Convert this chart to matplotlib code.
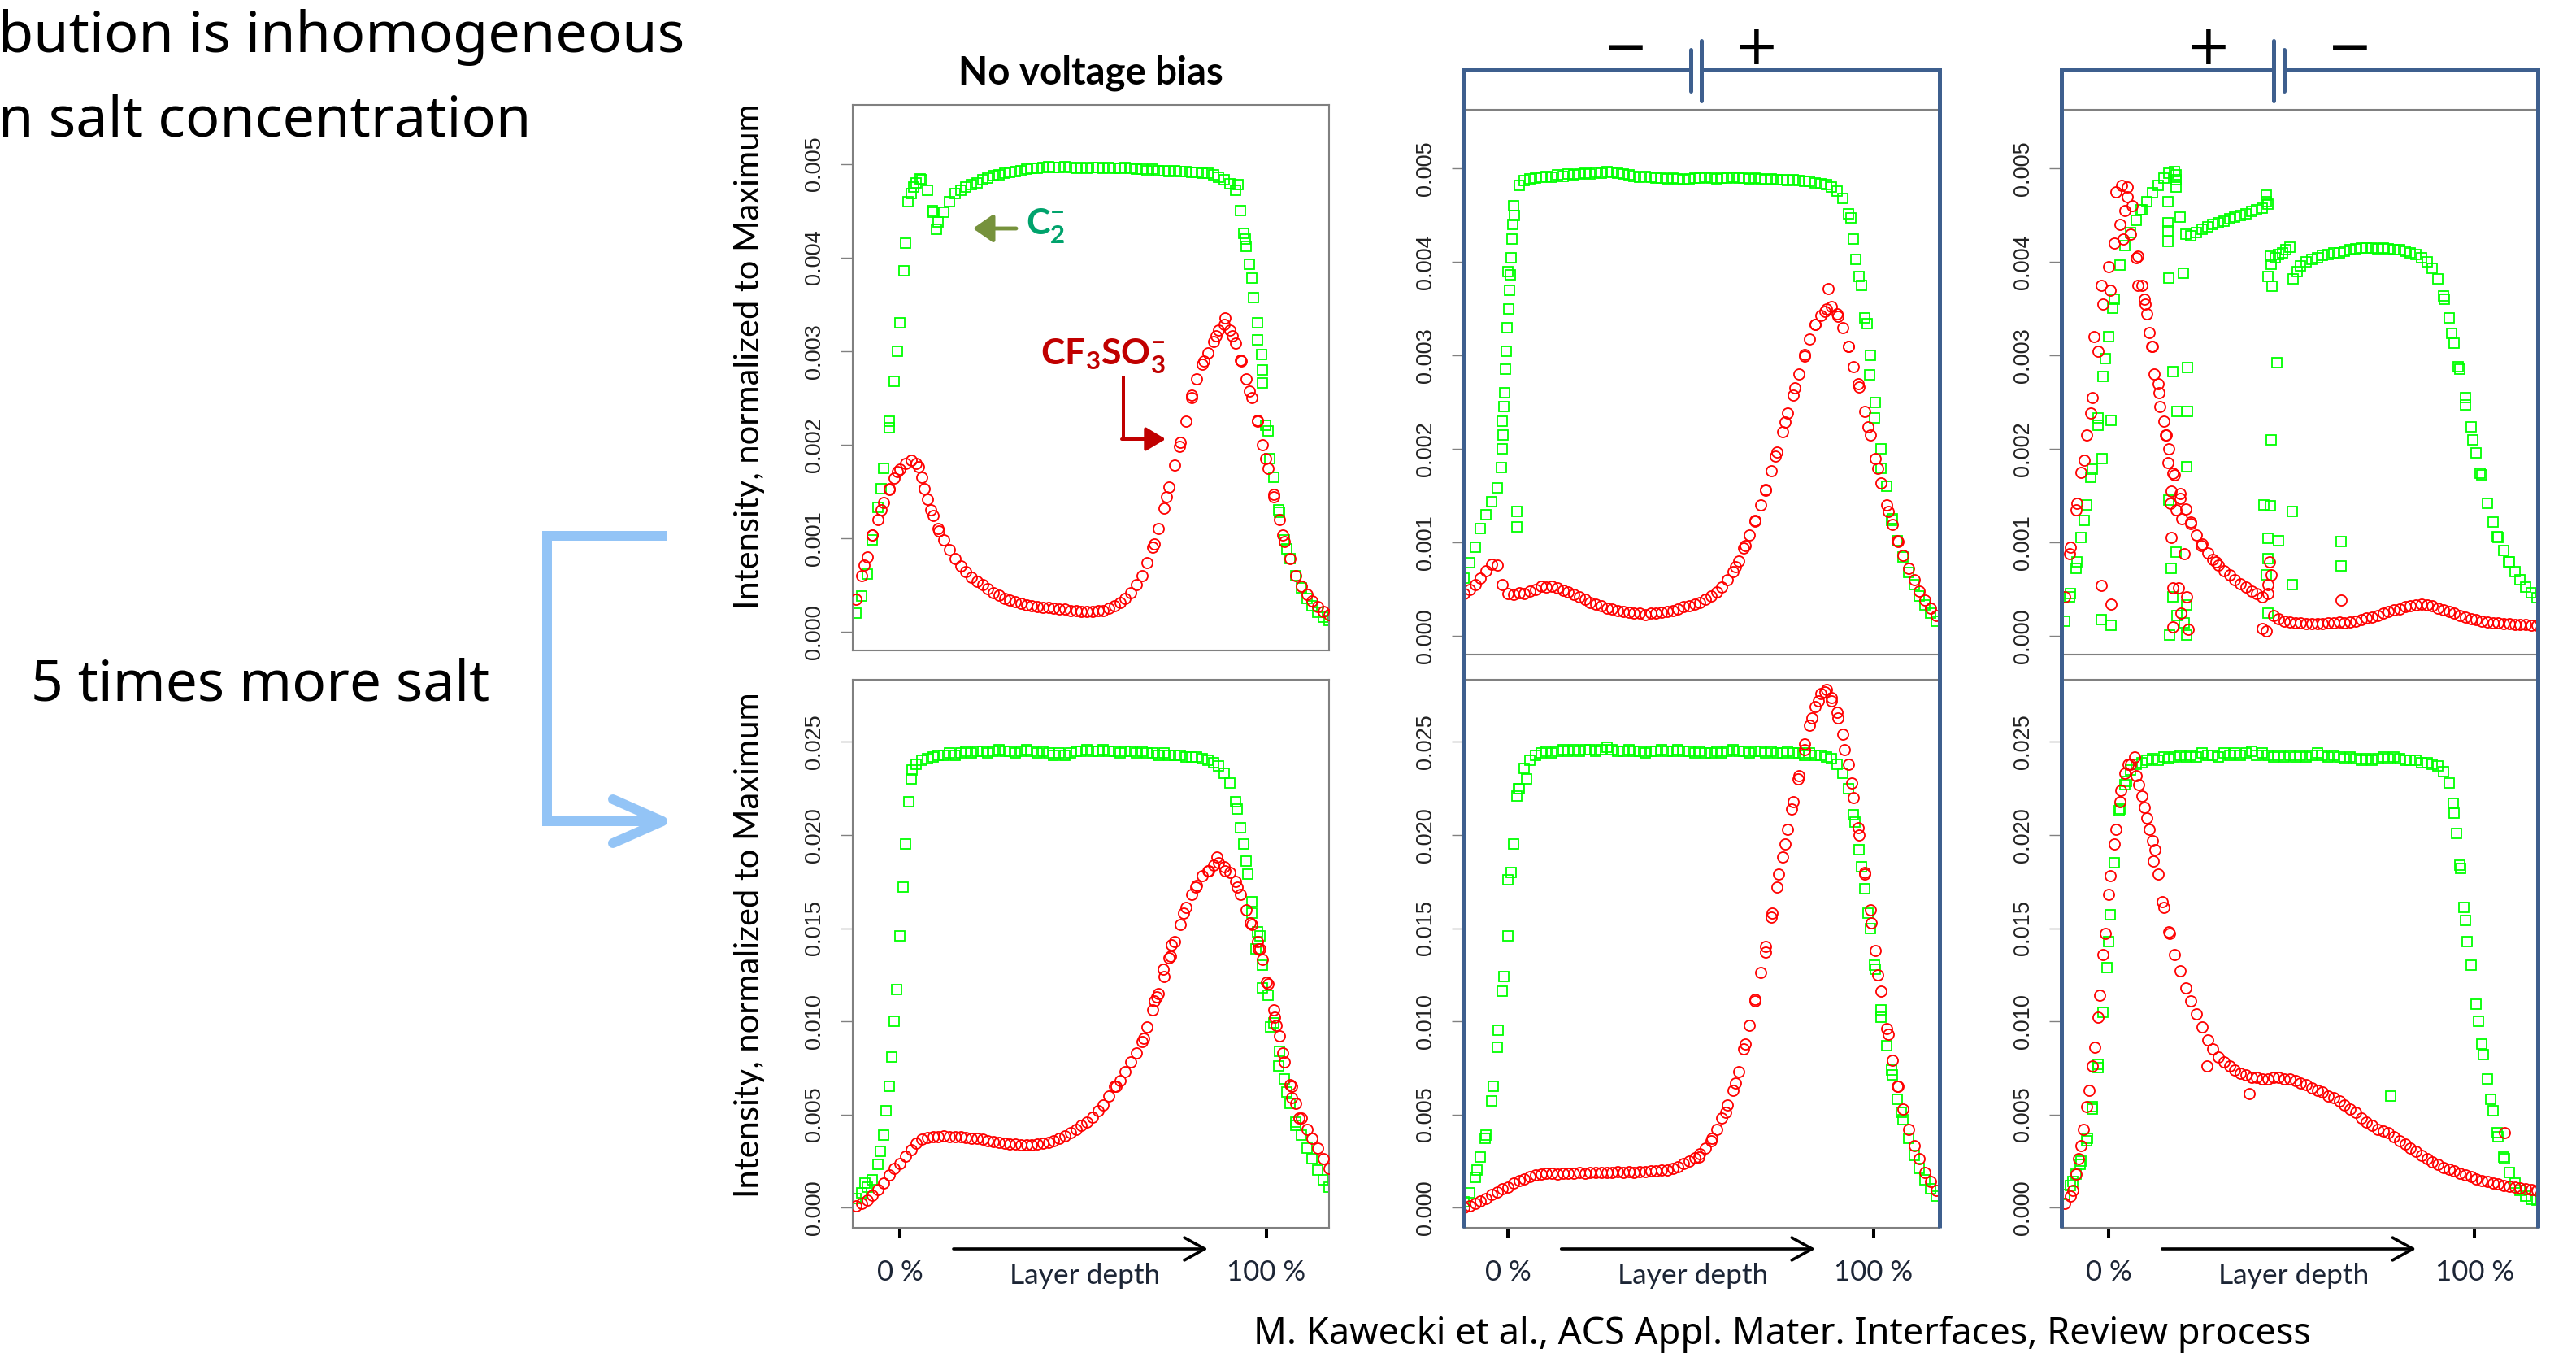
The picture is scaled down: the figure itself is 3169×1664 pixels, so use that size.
import numpy as np
import matplotlib
matplotlib.use("Agg")
import matplotlib.pyplot as plt

W, H = 3169, 1664
DPI = 100

plt.rcParams['mathtext.fontset'] = 'custom'
plt.rcParams['mathtext.rm'] = 'Lato'
plt.rcParams['mathtext.it'] = 'Lato:italic'
plt.rcParams['mathtext.bf'] = 'Lato:bold'

# === DATA ====================================================================
# depth through the layer (%), sampling shared by the smooth profiles
DEPTH = [-12, -10.5, -9, -7.5, -6, -4.5, -3, -1.5, 0, 1.5,
         3, 4.5, 6, 7.5, 9, 10.5, 12, 13.5, 15, 16.5,
         18, 19.5, 21, 22.5, 24, 25.5, 27, 28.5, 30, 31.5,
         33, 34.5, 36, 37.5, 39, 40.5, 42, 43.5, 45, 46.5,
         48, 49.5, 51, 52.5, 54, 55.5, 57, 58.5, 60, 61.5,
         63, 64.5, 66, 67.5, 69, 70.5, 72, 73.5, 75, 76.5,
         78, 79.5, 81, 82.5, 84, 85.5, 87, 88.5, 90, 91.5,
         93, 94.5, 96, 97.5, 99, 100.5, 102, 103.5, 105, 106.5,
         108, 109.5, 111, 112.5, 114, 115.5, 117]

# intensities below are in units of 1e-3 (normalized to maximum)

# --- no voltage bias, low salt
NB_C2 = [0.20, 0.38, 0.62, 0.98, 1.33, 1.75, 2.18, 2.68, 3.30, 4.15,
         4.68, 4.80, 4.83, 4.72, 4.48, 4.38, 4.48, 4.60, 4.68, 4.72,
         4.75, 4.78, 4.80, 4.83, 4.85, 4.87, 4.88, 4.90, 4.91, 4.92,
         4.93, 4.94, 4.95, 4.95, 4.96, 4.97, 4.96, 4.96, 4.97, 4.96,
         4.95, 4.96, 4.95, 4.96, 4.96, 4.95, 4.96, 4.95, 4.95, 4.96,
         4.95, 4.94, 4.94, 4.93, 4.94, 4.93, 4.93, 4.92, 4.93, 4.92,
         4.92, 4.91, 4.91, 4.90, 4.90, 4.88, 4.86, 4.83, 4.79, 4.72,
         4.50, 4.12, 3.78, 3.30, 2.80, 2.15, 1.65, 1.28, 0.98, 0.78,
         0.60, 0.47, 0.36, 0.28, 0.21, 0.16, 0.12]
NB_C2_EXTRA_X = [-5.2, -2.9, -0.7, 1.1, 2.2, 3.8, 5.5, 8.9, 10.0,
                 92.2, 93.8, 94.2, 95.4, 96.5, 97.6, 98.7, 98.8, 99.9, 101.0,
                 103.3, 105.5]
NB_C2_EXTRA_Y = [1.53, 2.25, 3.00, 3.86, 4.60, 4.75, 4.84, 4.50, 4.30,
                 4.78, 4.26, 4.20, 3.93, 3.57, 3.12, 2.96, 2.66, 2.21, 1.85,
                 1.30, 0.89]
NB_CF3 = [0.35, 0.60, 0.80, 1.03, 1.20, 1.38, 1.52, 1.64, 1.74, 1.80,
          1.83, 1.80, 1.65, 1.42, 1.24, 1.10, 0.98, 0.88, 0.78, 0.70,
          0.64, 0.58, 0.54, 0.50, 0.46, 0.42, 0.39, 0.36, 0.34, 0.32,
          0.30, 0.29, 0.28, 0.27, 0.26, 0.26, 0.25, 0.24, 0.24, 0.23,
          0.23, 0.22, 0.22, 0.22, 0.23, 0.23, 0.25, 0.28, 0.31, 0.36,
          0.42, 0.50, 0.60, 0.74, 0.90, 1.10, 1.32, 1.55, 1.78, 2.02,
          2.25, 2.50, 2.70, 2.86, 2.98, 3.10, 3.22, 3.28, 3.22, 3.08,
          2.90, 2.70, 2.50, 2.26, 2.00, 1.75, 1.47, 1.20, 0.96, 0.78,
          0.60, 0.49, 0.40, 0.33, 0.27, 0.22, 0.18]
NB_CF3_EXTRA_X = [-9.7, -7.5, -5.2, -2.9, -0.7, 5.0, 6.7, 8.4, 10.6,
                  69.4, 72.8, 76.2, 79.5, 82.9, 86.3, 88.6, 90.8, 93.1, 95.4,
                  97.6, 99.9, 102.1, 104.4]
NB_CF3_EXTRA_Y = [0.71, 1.03, 1.30, 1.53, 1.71, 1.76, 1.53, 1.30, 1.08,
                  0.94, 1.44, 1.98, 2.53, 2.89, 3.16, 3.35, 3.16, 2.89, 2.57,
                  2.25, 1.85, 1.44, 1.03]

# --- no voltage bias, 5x salt
NB5_C2 = [0.5, 0.8, 1.1, 1.5, 2.3, 3.9, 6.5, 10.0, 14.6, 19.5,
          23.0, 23.8, 24.0, 24.1, 24.2, 24.3, 24.3, 24.4, 24.3, 24.4,
          24.5, 24.4, 24.5, 24.5, 24.4, 24.5, 24.6, 24.5, 24.5, 24.4,
          24.5, 24.6, 24.5, 24.4, 24.5, 24.4, 24.3, 24.4, 24.3, 24.4,
          24.5, 24.5, 24.6, 24.5, 24.5, 24.6, 24.5, 24.5, 24.4, 24.5,
          24.5, 24.4, 24.5, 24.4, 24.4, 24.3, 24.4, 24.3, 24.3, 24.3,
          24.2, 24.2, 24.2, 24.1, 24.0, 23.9, 23.7, 23.3, 22.8, 21.8,
          20.4, 18.6, 16.4, 14.8, 13.0, 11.4, 9.9, 8.4, 6.9, 5.6,
          4.6, 3.9, 3.2, 2.6, 2.0, 1.5, 1.1]
NB5_C2_EXTRA_X = [-9.6, -5.3, -3.8, -2.2, -0.9, 0.8, 2.3, 3.4,
                  92.0, 93.8, 94.9, 96.0, 97.2, 98.2, 98.9, 101.1, 103.4, 105.6,
                  107.9]
NB5_C2_EXTRA_Y = [1.3, 3.0, 5.2, 8.1, 11.7, 17.2, 21.8, 23.5,
                  21.4, 19.5, 17.9, 15.8, 13.9, 14.6, 11.8, 9.7, 7.6, 6.2,
                  4.4]
NB5_CF3 = [0.10, 0.20, 0.40, 0.65, 0.95, 1.30, 1.75, 2.10, 2.35, 2.75,
           3.10, 3.45, 3.65, 3.75, 3.80, 3.82, 3.85, 3.80, 3.78, 3.80,
           3.75, 3.70, 3.72, 3.65, 3.60, 3.55, 3.50, 3.45, 3.40, 3.42,
           3.38, 3.35, 3.35, 3.40, 3.45, 3.50, 3.60, 3.70, 3.85, 4.00,
           4.20, 4.40, 4.60, 4.85, 5.20, 5.50, 6.00, 6.50, 6.80, 7.30,
           7.80, 8.30, 8.90, 9.70, 10.6, 11.5, 12.4, 13.4, 14.3, 15.2,
           16.1, 16.8, 17.3, 17.8, 18.1, 18.4, 18.5, 18.3, 18.0, 17.5,
           16.8, 16.0, 15.2, 14.3, 13.3, 12.0, 10.6, 9.2, 7.8, 6.6,
           5.6, 4.8, 4.2, 3.7, 3.2, 2.6, 2.1]
NB5_CF3_EXTRA_X = [59.0, 66.5, 69.5, 70.0, 71.8, 73.8, 74.0, 77.4, 80.8, 84.2,
                   86.4, 88.7, 92.0, 95.5, 97.7, 98.2, 100.0, 102.3, 102.7,
                   104.5, 106.8, 107.0, 109.0]
NB5_CF3_EXTRA_Y = [6.5, 9.1, 11.1, 11.3, 12.8, 13.5, 14.1, 15.8, 17.2, 18.1,
                   18.8, 18.1, 17.2, 15.3, 13.9, 13.9, 12.1, 10.2, 9.8,
                   8.3, 6.5, 5.9, 4.8]

# --- bias with negative electrode at 0 %, low salt
NEG_C2 = [0.62, 0.78, 0.95, 1.15, 1.30, 1.44, 1.58, 2.30, 3.90, 4.60,
          4.82, 4.87, 4.89, 4.90, 4.91, 4.92, 4.91, 4.93, 4.92, 4.94,
          4.93, 4.94, 4.95, 4.94, 4.96, 4.95, 4.97, 4.96, 4.95, 4.94,
          4.93, 4.92, 4.91, 4.92, 4.91, 4.90, 4.90, 4.89, 4.90, 4.89,
          4.88, 4.89, 4.90, 4.90, 4.91, 4.90, 4.89, 4.90, 4.90, 4.91,
          4.90, 4.90, 4.89, 4.90, 4.89, 4.88, 4.89, 4.88, 4.88, 4.87,
          4.88, 4.87, 4.86, 4.86, 4.85, 4.84, 4.83, 4.80, 4.76, 4.68,
          4.52, 4.25, 3.85, 3.40, 3.00, 2.50, 2.00, 1.60, 1.25, 1.02,
          0.84, 0.68, 0.55, 0.43, 0.33, 0.24, 0.16]
NEG_C2_EXTRA_X = [-1.8, -1.6, -1.3, -1.1, -0.9, -0.6, -0.4, -0.2, 0.2, 0.4,
                  0.7, 0.9, 1.1, 1.3, 1.8, 2.4, 2.4,
                  93.7, 95.1, 96.7, 98.2, 98.9, 100.3, 102.1, 104.8]
NEG_C2_EXTRA_Y = [1.80, 2.00, 2.15, 2.45, 2.60, 2.85, 3.05, 3.30, 3.50, 3.70,
                  3.86, 4.05, 4.25, 4.40, 4.50, 1.33, 1.17,
                  4.47, 4.03, 3.75, 3.34, 2.79, 2.33, 1.79, 1.24]
NEG_CF3 = [0.45, 0.50, 0.55, 0.62, 0.70, 0.77, 0.76, 0.55, 0.45, 0.44,
           0.46, 0.45, 0.48, 0.50, 0.53, 0.52, 0.53, 0.51, 0.49, 0.47,
           0.44, 0.42, 0.39, 0.36, 0.34, 0.32, 0.30, 0.29, 0.27, 0.26,
           0.25, 0.24, 0.24, 0.23, 0.24, 0.24, 0.25, 0.26, 0.27, 0.29,
           0.31, 0.32, 0.34, 0.36, 0.39, 0.43, 0.47, 0.52, 0.60, 0.69,
           0.80, 0.94, 1.08, 1.23, 1.40, 1.57, 1.77, 1.97, 2.18, 2.38,
           2.58, 2.80, 2.99, 3.18, 3.33, 3.43, 3.50, 3.52, 3.45, 3.30,
           3.10, 2.88, 2.66, 2.40, 2.15, 1.90, 1.64, 1.40, 1.19, 1.02,
           0.86, 0.72, 0.60, 0.48, 0.38, 0.30, 0.22]
NEG_CF3_EXTRA_X = [62.2, 64.9, 67.6, 70.4, 73.1, 75.8, 78.5, 81.2, 84.0, 86.7,
                   87.6, 90.3, 93.0, 95.7, 98.5, 101.2, 103.9, 106.6]
NEG_CF3_EXTRA_Y = [0.74, 0.97, 1.24, 1.56, 1.92, 2.29, 2.65, 3.01, 3.33, 3.47,
                   3.72, 3.42, 3.10, 2.70, 2.24, 1.79, 1.33, 1.01]

# --- bias with negative electrode at 0 %, 5x salt
NEG5_C2 = [0.3, 0.8, 1.6, 2.7, 3.9, 5.7, 8.6, 11.6, 14.6, 19.5,
           22.5, 23.6, 24.0, 24.3, 24.4, 24.5, 24.4, 24.5, 24.6, 24.5,
           24.6, 24.5, 24.6, 24.6, 24.5, 24.6, 24.7, 24.6, 24.5, 24.5,
           24.6, 24.5, 24.5, 24.4, 24.5, 24.5, 24.6, 24.5, 24.5, 24.6,
           24.5, 24.5, 24.4, 24.5, 24.4, 24.4, 24.5, 24.4, 24.5, 24.6,
           24.5, 24.5, 24.4, 24.5, 24.5, 24.4, 24.5, 24.4, 24.4, 24.5,
           24.4, 24.4, 24.3, 24.4, 24.3, 24.3, 24.2, 24.1, 23.8, 23.3,
           22.5, 21.1, 19.2, 17.1, 15.0, 12.8, 10.6, 8.7, 7.1, 5.8,
           4.7, 3.7, 2.8, 2.1, 1.5, 1.0, 0.6]
NEG5_C2_EXTRA_X = [-8.5, -6.2, -4.0, -2.6, -1.1, 0.1, 0.8, 2.4, 2.8, 5.0,
                   94.8, 96.6, 98.5, 100.3, 102.1, 104.8, 107.5]
NEG5_C2_EXTRA_Y = [2.0, 3.7, 6.5, 9.5, 12.4, 17.6, 18.0, 22.1, 22.5, 23.0,
                   20.7, 18.3, 15.8, 13.0, 10.2, 7.4, 5.1]
NEG5_CF3 = [0.02, 0.10, 0.20, 0.35, 0.50, 0.70, 0.85, 1.00, 1.10, 1.30,
            1.45, 1.55, 1.65, 1.75, 1.80, 1.82, 1.85, 1.80, 1.82, 1.84,
            1.85, 1.87, 1.85, 1.88, 1.90, 1.90, 1.88, 1.90, 1.92, 1.90,
            1.92, 1.90, 1.93, 1.92, 1.95, 1.97, 2.00, 2.02, 2.10, 2.20,
            2.35, 2.50, 2.65, 2.90, 3.20, 3.60, 4.20, 4.80, 5.50, 6.30,
            7.30, 8.50, 9.80, 11.2, 12.6, 14.0, 15.6, 17.2, 18.8, 20.3,
            21.8, 23.2, 24.6, 25.9, 26.9, 27.6, 27.8, 27.4, 26.6, 25.4,
            23.8, 22.0, 20.0, 18.0, 16.0, 13.8, 11.6, 9.6, 7.9, 6.5,
            5.3, 4.2, 3.3, 2.6, 1.9, 1.4, 0.9]
NEG5_CF3_EXTRA_X = [52.2, 55.8, 59.5, 62.2, 64.9, 67.6, 70.4, 72.2, 74.0, 75.8,
                    77.6, 79.4, 81.2, 83.0, 84.9, 86.7, 88.5, 90.3, 92.1, 93.9,
                    95.7, 97.6, 99.4, 101.2, 103.9, 106.6]
NEG5_CF3_EXTRA_Y = [2.7, 3.7, 5.1, 6.7, 8.8, 11.1, 13.7, 15.8, 17.9, 19.5,
                    21.4, 23.0, 24.9, 26.3, 27.2, 27.7, 27.2, 26.3, 24.6, 22.8,
                    20.4, 17.9, 15.3, 12.5, 9.3, 6.5]

# --- bias with positive electrode at 0 %, low salt (C2- profile is broken)
POS_C2_X1 = [-12, -10.5, -9, -7.5, -6, -4.5, -3, -1.5, 0, 1.5, 3, 4.5, 6, 7.5,
             9, 10.5, 12, 13.5, 15, 16.5, 18, 18.5, 18.5, 18.5]
POS_C2_Y1 = [0.16, 0.45, 0.72, 1.05, 1.40, 1.78, 2.25, 2.78, 3.20, 3.60, 3.97,
             4.18, 4.32, 4.45, 4.56, 4.65, 4.74, 4.82, 4.90, 4.95, 4.97, 4.93,
             4.88, 4.80]
POS_C2_X2 = [19.5, 21, 22.5, 24, 25.5, 27, 28.5, 30, 31.5, 33, 34.5, 36, 37.5,
             39, 40.5, 42, 43.5]
POS_C2_Y2 = [4.48, 4.30, 4.28, 4.32, 4.35, 4.38, 4.40, 4.42, 4.44, 4.46, 4.48,
             4.50, 4.52, 4.54, 4.56, 4.58, 4.62]
POS_C2_X3 = [43.5, 44.5, 45.5, 46.5, 47.5, 48.5, 49.5]
POS_C2_Y3 = [3.85, 3.98, 4.05, 4.08, 4.10, 4.13, 4.16]
POS_C2_X4 = [50.5, 51.5, 52.5, 54, 55.5, 57, 58.5, 60, 61.5, 63, 64.5, 66, 67.5,
             69, 70.5, 72, 73.5, 75, 76.5, 78, 79.5, 81, 82.5, 84, 85.5, 87,
             88.5, 90, 91.5, 93, 94.5, 96, 97.5, 99, 100.5, 102, 103.5, 105,
             106.5, 108, 109.5, 111, 112.5, 114, 115.5, 117]
POS_C2_Y4 = [3.82, 3.90, 3.96, 4.00, 4.03, 4.05, 4.07, 4.08, 4.10, 4.10, 4.12,
             4.13, 4.14, 4.15, 4.15, 4.15, 4.14, 4.15, 4.14, 4.13, 4.13, 4.12,
             4.10, 4.08, 4.05, 4.00, 3.93, 3.82, 3.64, 3.40, 3.13, 2.85, 2.55,
             2.24, 1.96, 1.72, 1.42, 1.22, 1.05, 0.91, 0.79, 0.69, 0.60, 0.52,
             0.46, 0.41]
POS_C2_EXTRA_X = [-10.6, -8.7, -6.7, -4.8, -2.8, -0.9, 1.1, 8.7, 91.7, 93.7,
                  95.6, 97.6, 99.5, 101.5, 106.3, 109.3]
POS_C2_EXTRA_Y = [0.42, 0.79, 1.24, 1.70, 2.33, 2.97, 3.51, 4.56, 3.60, 3.24,
                  2.88, 2.47, 2.10, 1.74, 1.06, 0.79]
POS_C2_OUT_X = [-2.1, 0.6, 0.6, -1.9, 16.2, 16.2, 16.2, 16.2, 16.5, 20.4, 17.6,
                21.5, 18.6, 21.5, 21.3, 16.5, 18.4, 17.2, 17.6, 18.6, 16.7,
                21.3, 21.3, 20.6, 43.0, 43.0, 44.2, 44.7, 45.9, 44.4, 42.5,
                44.2, 43.5, 46.4, 43.5, 43.0, 43.5, 50.3, 50.3, 63.6, 63.6]
POS_C2_OUT_Y = [0.17, 0.11, 2.31, 1.90, 4.65, 4.42, 4.33, 4.22, 3.83, 3.88, 2.83,
                2.87, 2.40, 2.40, 1.81, 1.45, 0.90, 0.72, 0.42, 0.22, 0.01,
                0.01, 0.33, 0.14, 4.72, 4.65, 4.06, 3.74, 2.92, 2.10, 1.40,
                1.39, 1.04, 1.02, 0.83, 0.65, 0.24, 1.33, 0.55, 1.01, 0.75]
POS_CF3 = [0.42, 0.95, 1.35, 1.75, 2.15, 2.55, 3.05, 3.55, 3.95, 4.20,
           4.40, 4.55, 4.30, 4.05, 3.75, 3.45, 3.10, 2.70, 2.30, 2.00,
           1.72, 1.52, 1.36, 1.22, 1.08, 0.98, 0.89, 0.82, 0.76, 0.70,
           0.65, 0.60, 0.56, 0.52, 0.48, 0.45, 0.42, 0.45, 0.22, 0.18,
           0.16, 0.15, 0.14, 0.14, 0.13, 0.13, 0.13, 0.13, 0.14, 0.14,
           0.15, 0.14, 0.15, 0.16, 0.17, 0.19, 0.20, 0.22, 0.24, 0.26,
           0.28, 0.29, 0.31, 0.32, 0.33, 0.34, 0.33, 0.32, 0.30, 0.28,
           0.26, 0.24, 0.22, 0.20, 0.18, 0.17, 0.16, 0.15, 0.14, 0.14,
           0.13, 0.13, 0.12, 0.12, 0.12, 0.11, 0.11]
POS_CF3_OUT_X = [-4.0, -2.0, 0.5, 2.0, 3.5, 5.0, 4.0, 6.5, 8.0, 10.0, 11.0, 12.5,
                 14.0, 15.5, 16.2, 17.0, 18.5, 20.0, 16.9, 17.2, 17.6, 19.1,
                 17.6, 19.8, 21.3, 20.6, 21.7, 63.6, -2.0, 0.6, 44.0, 44.4,
                 43.5, 42.0, 43.0, -10.6, -8.7, -6.7, -4.8, 5.1, 7.9, 9.8,
                 11.8, 13.7, 15.7, 17.6, 19.6, 22.5, 25.4, 29.3]
POS_CF3_OUT_Y = [3.20, 3.75, 3.70, 4.75, 4.82, 4.70, 4.25, 4.60, 3.75, 3.55, 3.25,
                 2.80, 2.45, 2.15, 1.85, 1.55, 1.35, 1.25, 1.42, 1.05, 0.51,
                 0.51, 0.10, 0.24, 0.42, 0.88, 0.07, 0.38, 0.54, 0.34, 0.79,
                 0.65, 0.55, 0.08, 0.05, 0.88, 1.42, 1.88, 2.38, 4.80, 4.06,
                 3.60, 3.10, 2.60, 2.15, 1.74, 1.47, 1.20, 0.97, 0.79]

# --- bias with positive electrode at 0 %, 5x salt
POS5_C2 = [0.7, 1.2, 1.8, 2.5, 3.6, 5.3, 7.5, 10.5, 14.3, 18.5,
           21.4, 22.7, 23.5, 23.8, 23.9, 24.0, 24.1, 24.0, 24.2, 24.1,
           24.2, 24.3, 24.2, 24.3, 24.2, 24.4, 24.3, 24.3, 24.2, 24.4,
           24.3, 24.4, 24.3, 24.4, 24.5, 24.3, 24.4, 24.3, 24.2, 24.3,
           24.2, 24.3, 24.2, 24.3, 24.2, 24.3, 24.4, 24.3, 24.2, 24.3,
           24.2, 24.1, 24.2, 24.1, 24.0, 24.1, 24.0, 24.1, 24.2, 24.1,
           24.2, 24.1, 24.0, 24.0, 24.0, 23.9, 23.9, 23.8, 23.7, 23.4,
           22.8, 21.2, 18.4, 15.4, 13.0, 10.9, 8.8, 6.9, 5.2, 3.8,
           2.7, 1.9, 1.3, 0.9, 0.6, 0.45, 0.4]
POS5_C2_EXTRA_X = [-9.8, -7.8, -5.9, -4.4, -2.9, -0.5, 0.5, 2.9, 4.9, 77.1,
                   94.1, 95.1, 96.1, 97.1, 98.0, 101.0, 102.4, 104.4, 106.3,
                   108.3]
POS5_C2_EXTRA_Y = [1.4, 2.3, 3.7, 5.4, 7.7, 12.9, 15.7, 21.3, 22.9, 6.0,
                   21.7, 20.1, 18.2, 16.1, 14.3, 10.0, 8.2, 5.8, 4.0,
                   2.6]
POS5_CF3 = [0.2, 0.6, 1.8, 3.3, 5.4, 7.6, 10.2, 13.6, 16.8, 19.5,
            21.8, 23.3, 23.8, 23.2, 22.1, 20.9, 19.7, 17.9, 16.1, 14.8,
            13.6, 12.7, 11.8, 11.1, 10.4, 9.7, 9.0, 8.5, 8.1, 7.8,
            7.6, 7.4, 7.2, 7.1, 7.0, 7.0, 6.9, 6.9, 7.0, 7.0,
            6.9, 6.9, 6.8, 6.7, 6.6, 6.4, 6.3, 6.2, 6.0, 5.9,
            5.7, 5.5, 5.3, 5.1, 4.8, 4.6, 4.4, 4.2, 4.1, 4.0,
            3.8, 3.6, 3.4, 3.2, 3.0, 2.8, 2.6, 2.45, 2.3, 2.15,
            2.05, 1.95, 1.85, 1.75, 1.65, 1.55, 1.45, 1.38, 1.3, 1.25,
            1.2, 1.15, 1.1, 1.05, 1.0, 0.95, 0.9]
POS5_CF3_EXTRA_X = [-9.8, -8.3, -6.8, -5.4, -3.9, -2.4, -1.0, 0.5, 2.0, 3.4,
                    5.4, 8.3, 9.8, 11.2, 12.7, 14.6, 16.6, 12.2, 108.3, 7.0,
                    26.8, 38.5]
POS5_CF3_EXTRA_Y = [0.9, 2.6, 4.2, 6.3, 8.6, 11.4, 14.7, 17.8, 20.3, 22.4,
                    23.8, 22.7, 21.5, 20.3, 19.2, 16.4, 14.7, 18.6, 4.0, 24.2,
                    7.6, 6.1]

TOP_TICKS = [0.000, 0.001, 0.002, 0.003, 0.004, 0.005]
BOTTOM_TICKS = [0.000, 0.005, 0.010, 0.015, 0.020, 0.025]
# ============================================================================

GREEN = "#00FF00"
RED = "#FF0000"
BLUE = "#3E5F8E"
LIGHTBLUE = "#93C4F6"
SPINE = "#808080"
LABEL_DARK = "#1c2535"


def px_axes(fig, x0, y0, x1, y1):
    return fig.add_axes([x0 / W, 1 - y1 / H, (x1 - x0) / W, (y1 - y0) / H])


def scaled(vals):
    return np.asarray(vals, dtype=float) * 1e-3


def plot_c2(ax, x, y):
    ax.plot(x, scaled(y), ls="none", marker="s", ms=9.0, mfc="none",
            mec=GREEN, mew=1.3, zorder=2)


def plot_cf3(ax, x, y):
    ax.plot(x, scaled(y), ls="none", marker="o", ms=9.4, mfc="none",
            mec=RED, mew=1.3, zorder=3)


def style_panel(ax, xlim, top_row):
    ax.set_xlim(*xlim)
    if top_row:
        ax.set_ylim(-0.0002, 0.00563)
        ticks = TOP_TICKS
    else:
        ax.set_ylim(-0.00109, 0.02834)
        ticks = BOTTOM_TICKS
    ax.set_yticks(ticks)
    ax.set_yticklabels([f"{t:.3f}" for t in ticks])
    for s in ax.spines.values():
        s.set_color(SPINE)
        s.set_linewidth(1.5)
    ax.tick_params(axis="y", length=10.8, width=1.0, color=SPINE, pad=14,
                   labelsize=19.5, labelcolor="#222222", labelrotation=90)
    for lbl in ax.get_yticklabels():
        lbl.set_family("Liberation Sans")
        lbl.set_va("center")
    if top_row:
        ax.tick_params(axis="x", bottom=False, labelbottom=False)
    else:
        ax.set_xticks([0, 100])
        ax.set_xticklabels(["0 %", "100 %"])
        ax.tick_params(axis="x", length=9.4, width=2.9, color="black",
                       pad=19, labelsize=25, labelcolor=LABEL_DARK)
        for lbl in ax.get_xticklabels():
            lbl.set_family("Lato")
        trans = ax.get_xaxis_transform()
        frac = 1.0 / 674
        ax.annotate("", xy=(84.0, -26 * frac), xytext=(14.6, -26 * frac),
                    xycoords=trans, textcoords=trans, annotation_clip=False,
                    arrowprops=dict(arrowstyle="->,head_length=0.45,head_width=0.25",
                                    lw=2.6, color="black", shrinkA=0, shrinkB=0,
                                    mutation_scale=40))
        ax.text(30.0, -59 * frac, "Layer depth", transform=trans, ha="left",
                va="center", family="Lato", fontsize=25.5, color=LABEL_DARK)


fig = plt.figure(figsize=(W / DPI, H / DPI), dpi=DPI)
fig.patch.set_facecolor("white")

COL_XLIM = [(-12.9, 117.1), (-12.0, 118.0), (-12.9, 117.3)]

ax_nb = px_axes(fig, 1049, 129, 1635, 800)
ax_neg = px_axes(fig, 1801, 135, 2386, 805)
ax_pos = px_axes(fig, 2536, 135, 3122, 805)
ax_nb5 = px_axes(fig, 1049, 836, 1635, 1510)
ax_neg5 = px_axes(fig, 1801, 836, 2386, 1510)
ax_pos5 = px_axes(fig, 2536, 836, 3122, 1510)

style_panel(ax_nb, COL_XLIM[0], True)
style_panel(ax_neg, COL_XLIM[1], True)
style_panel(ax_pos, COL_XLIM[2], True)
style_panel(ax_nb5, COL_XLIM[0], False)
style_panel(ax_neg5, COL_XLIM[1], False)
style_panel(ax_pos5, COL_XLIM[2], False)

# profiles: C2- first, CF3SO3- drawn over it
plot_c2(ax_nb, DEPTH, NB_C2)
plot_c2(ax_nb, NB_C2_EXTRA_X, NB_C2_EXTRA_Y)
plot_cf3(ax_nb, DEPTH, NB_CF3)
plot_cf3(ax_nb, NB_CF3_EXTRA_X, NB_CF3_EXTRA_Y)

plot_c2(ax_nb5, DEPTH, NB5_C2)
plot_c2(ax_nb5, NB5_C2_EXTRA_X, NB5_C2_EXTRA_Y)
plot_cf3(ax_nb5, DEPTH, NB5_CF3)
plot_cf3(ax_nb5, NB5_CF3_EXTRA_X, NB5_CF3_EXTRA_Y)

plot_c2(ax_neg, DEPTH, NEG_C2)
plot_c2(ax_neg, NEG_C2_EXTRA_X, NEG_C2_EXTRA_Y)
plot_cf3(ax_neg, DEPTH, NEG_CF3)
plot_cf3(ax_neg, NEG_CF3_EXTRA_X, NEG_CF3_EXTRA_Y)

plot_c2(ax_neg5, DEPTH, NEG5_C2)
plot_c2(ax_neg5, NEG5_C2_EXTRA_X, NEG5_C2_EXTRA_Y)
plot_cf3(ax_neg5, DEPTH, NEG5_CF3)
plot_cf3(ax_neg5, NEG5_CF3_EXTRA_X, NEG5_CF3_EXTRA_Y)

for xs, ys in [(POS_C2_X1, POS_C2_Y1), (POS_C2_X2, POS_C2_Y2),
               (POS_C2_X3, POS_C2_Y3), (POS_C2_X4, POS_C2_Y4),
               (POS_C2_EXTRA_X, POS_C2_EXTRA_Y),
               (POS_C2_OUT_X, POS_C2_OUT_Y)]:
    plot_c2(ax_pos, xs, ys)
plot_cf3(ax_pos, DEPTH, POS_CF3)
plot_cf3(ax_pos, POS_CF3_OUT_X, POS_CF3_OUT_Y)

plot_c2(ax_pos5, DEPTH, POS5_C2)
plot_c2(ax_pos5, POS5_C2_EXTRA_X, POS5_C2_EXTRA_Y)
plot_cf3(ax_pos5, DEPTH, POS5_CF3)
plot_cf3(ax_pos5, POS5_CF3_EXTRA_X, POS5_CF3_EXTRA_Y)

# ---- slide overlay in pixel coordinates ----
ov = fig.add_axes([0, 0, 1, 1])
ov.set_xlim(0, W)
ov.set_ylim(H, 0)
ov.axis("off")

PT = 72.0 / DPI  # points per pixel

# electrode frames with battery symbol
frame_kw = dict(color=BLUE, lw=5 * PT, solid_joinstyle="miter",
                solid_capstyle="butt")
plate_kw = dict(color=BLUE, lw=5 * PT, solid_capstyle="round")
ov.plot([1801, 1801, 2080], [1510, 86, 86], **frame_kw)
ov.plot([2093, 2386, 2386], [86, 86, 1510], **frame_kw)
ov.plot([2080, 2080], [61, 112], **plate_kw)
ov.plot([2093, 2093], [50, 124], **plate_kw)
ov.plot([2536, 2536, 2797], [1510, 86, 86], **frame_kw)
ov.plot([2810, 3122, 3122], [86, 86, 1510], **frame_kw)
ov.plot([2797, 2797], [50, 124], **plate_kw)
ov.plot([2810, 2810], [61, 112], **plate_kw)

sign_kw = dict(ha="center", va="baseline", fontsize=48, family="DejaVu Sans",
               color="black")
ov.text(2000, 79, "\u2212", **sign_kw)
ov.text(2161, 79, "+", **sign_kw)
ov.text(2717, 79, "+", **sign_kw)
ov.text(2891, 79, "\u2212", **sign_kw)

# bracket arrow pointing to the higher salt row
ov.plot([821, 673, 673, 812], [659, 659, 1010, 1010], color=LIGHTBLUE,
        lw=12 * PT, solid_joinstyle="miter", solid_capstyle="butt")
ov.plot([754, 815, 754], [983, 1010, 1037], color=LIGHTBLUE, lw=12 * PT,
        solid_capstyle="round", solid_joinstyle="round")

slide_kw = dict(family="Noto Sans", color="black", va="baseline")
ov.text(-2, 64, "bution is inhomogeneous", fontsize=50.5, **slide_kw)
ov.text(-2, 167, "n salt concentration", fontsize=50.5, **slide_kw)
ov.text(38, 862, "5 times more salt", fontsize=50, **slide_kw)
ov.text(1542, 1653, "M. Kawecki et al., ACS Appl. Mater. Interfaces, Review process",
        fontsize=32.5, **slide_kw)

ov.text(1342, 103, "No voltage bias", ha="center", va="baseline",
        family="Lato", fontweight="bold", fontsize=34, color="black")

for yc in (438, 1162):
    ov.text(922, yc, "Intensity, normalized to Maximum", rotation=90,
            ha="center", va="center", family="Lato", fontsize=30,
            color="black")

# species labels
ov.annotate("", xy=(1197, 281), xytext=(1250, 281),
            arrowprops=dict(arrowstyle="-|>,head_length=0.5,head_width=0.35",
                            lw=3.5, color="#76923C", shrinkA=0, shrinkB=0,
                            mutation_scale=30))
ov.text(1262, 289, r"C$_\mathbf{2}^\mathbf{-}$", ha="left", va="baseline",
        family="Lato", fontweight="bold", fontsize=32, color="#00A36C")

ov.text(1280, 449, r"CF$_\mathbf{3}$SO$_\mathbf{3}^\mathbf{-}$", ha="left",
        va="baseline", family="Lato", fontweight="bold", fontsize=32,
        color="#C00000")
ov.plot([1382, 1382], [463, 540], color="#C00000", lw=4 * PT,
        solid_capstyle="butt")
ov.annotate("", xy=(1434, 540), xytext=(1380, 540),
            arrowprops=dict(arrowstyle="-|>,head_length=0.5,head_width=0.3",
                            lw=4 * PT, color="#C00000", shrinkA=0, shrinkB=0,
                            mutation_scale=30))

fig.savefig("out.png", dpi=DPI, facecolor="white")
